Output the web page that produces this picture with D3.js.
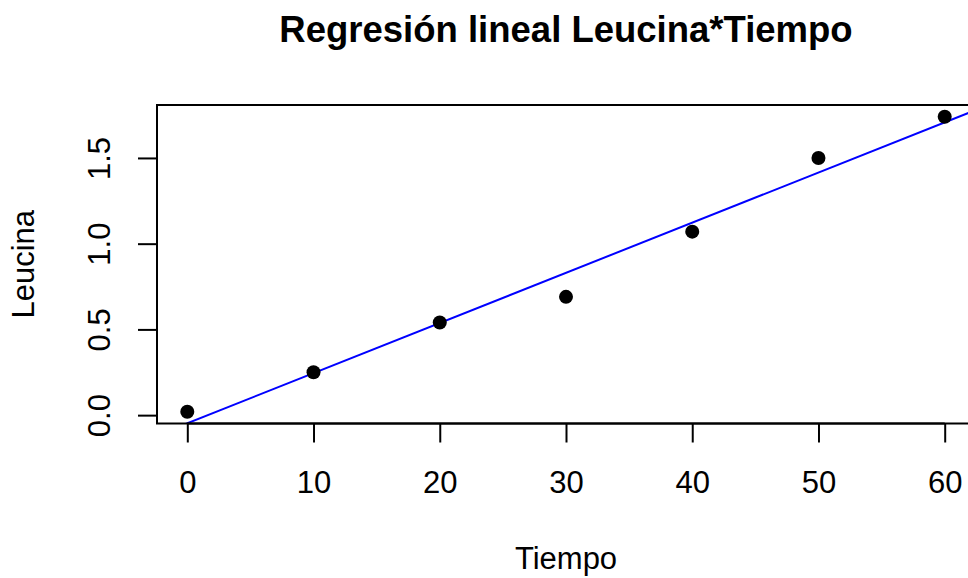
<!DOCTYPE html>
<html>
<head>
<meta charset="utf-8">
<script src="https://cdn.jsdelivr.net/npm/d3@7"></script>
<style>
  html, body { margin: 0; padding: 0; background: #fff; }
  svg { display: block; }
  text { font-family: 'Liberation Sans', Arial, Helvetica, sans-serif; fill: #000; }
</style>
</head>
<body>
<div id="chart"></div>
<script>
// ── Datos ──
const tiempo = [0, 10, 20, 30, 40, 50, 60];
const leucina = [0.02, 0.25, 0.54, 0.69, 1.07, 1.50, 1.74];
const xTicks = [0, 10, 20, 30, 40, 50, 60];
const yTicks = [0.0, 0.5, 1.0, 1.5];
const yTickLabels = ['0.0', '0.5', '1.0', '1.5'];
const titulo = 'Regresión lineal Leucina*Tiempo';
const etiquetaX = 'Tiempo';
const etiquetaY = 'Leucina';

const W = 968, H = 578;
const box = { left: 157, right: 975, top: 105, bottom: 423.5 };

// ajuste por mínimos cuadrados (abline(lm(Leucina ~ Tiempo)))
const mx = d3.mean(tiempo), my = d3.mean(leucina);
const pendiente = d3.sum(tiempo, (t, i) => (t - mx) * (leucina[i] - my)) /
                  d3.sum(tiempo, t => (t - mx) * (t - mx));
const intercepto = my - pendiente * mx;

// rango con el 4% de margen, como en R
function pad(ext) {
  const d = (ext[1] - ext[0]) * 0.04;
  return [ext[0] - d, ext[1] + d];
}
const xDom = pad(d3.extent(tiempo));
const yDom = pad(d3.extent(leucina));

const x = d3.scaleLinear().domain(xDom).range([box.left, box.right]);
const y = d3.scaleLinear().domain(yDom).range([box.bottom, box.top]);

const svg = d3.select('#chart').append('svg')
  .attr('width', W).attr('height', H)
  .style('background', '#fff');

svg.append('defs').append('clipPath').attr('id', 'clip')
  .append('rect')
  .attr('x', box.left).attr('y', box.top)
  .attr('width', box.right - box.left).attr('height', box.bottom - box.top);

// ── Recta de regresión ──
svg.append('line')
  .attr('clip-path', 'url(#clip)')
  .attr('x1', x(xDom[0])).attr('y1', y(intercepto + pendiente * xDom[0]))
  .attr('x2', x(xDom[1])).attr('y2', y(intercepto + pendiente * xDom[1]))
  .attr('stroke', '#0000ff').attr('stroke-width', 2);

// ── Puntos ──
svg.append('g').selectAll('circle')
  .data(tiempo)
  .enter().append('circle')
  .attr('cx', d => x(d))
  .attr('cy', (d, i) => y(leucina[i]))
  .attr('r', 7)
  .attr('fill', '#000');

// ── Caja ──
svg.append('rect')
  .attr('x', box.left).attr('y', box.top)
  .attr('width', box.right - box.left).attr('height', box.bottom - box.top)
  .attr('fill', 'none').attr('stroke', '#000').attr('stroke-width', 2);

// ── Eje X ──
const gx = svg.append('g')
  .attr('transform', `translate(0,${box.bottom})`)
  .call(d3.axisBottom(x).tickValues(xTicks).tickSize(19).tickFormat(d3.format('d')));
gx.select('.domain').remove();
gx.selectAll('.tick line').attr('stroke', '#000').attr('stroke-width', 2);
gx.selectAll('.tick text')
  .attr('y', 69.5).attr('dy', 0)
  .style('font-size', '31px')
  .style('font-family', "'Liberation Sans', Arial, sans-serif")
  .attr('fill', '#000');
gx.append('line')
  .attr('x1', x(xTicks[0])).attr('x2', x(xTicks[xTicks.length - 1]))
  .attr('stroke', '#000').attr('stroke-width', 2);

// ── Eje Y ──
const gy = svg.append('g')
  .attr('transform', `translate(${box.left},0)`)
  .call(d3.axisLeft(y).tickValues(yTicks).tickSize(19)
    .tickFormat((d, i) => yTickLabels[i]));
gy.select('.domain').remove();
gy.selectAll('.tick line').attr('stroke', '#000').attr('stroke-width', 2);
gy.selectAll('.tick text')
  .attr('transform', 'rotate(-90)')
  .attr('x', 0).attr('y', -47).attr('dy', 0)
  .attr('text-anchor', 'middle')
  .style('font-size', '31px')
  .style('font-family', "'Liberation Sans', Arial, sans-serif")
  .attr('fill', '#000');
gy.append('line')
  .attr('y1', y(yTicks[0])).attr('y2', y(yTicks[yTicks.length - 1]))
  .attr('stroke', '#000').attr('stroke-width', 2);

// ── Títulos ──
const cx = (box.left + box.right) / 2;
svg.append('text')
  .attr('x', cx).attr('y', 42)
  .attr('text-anchor', 'middle')
  .style('font-size', '36.5px').style('font-weight', 'bold')
  .text(titulo);

svg.append('text')
  .attr('x', cx).attr('y', 569)
  .attr('text-anchor', 'middle')
  .style('font-size', '31px')
  .text(etiquetaX);

svg.append('text')
  .attr('transform', `translate(34,${(box.top + box.bottom) / 2}) rotate(-90)`)
  .attr('text-anchor', 'middle')
  .style('font-size', '31px')
  .text(etiquetaY);
</script>
</body>
</html>
